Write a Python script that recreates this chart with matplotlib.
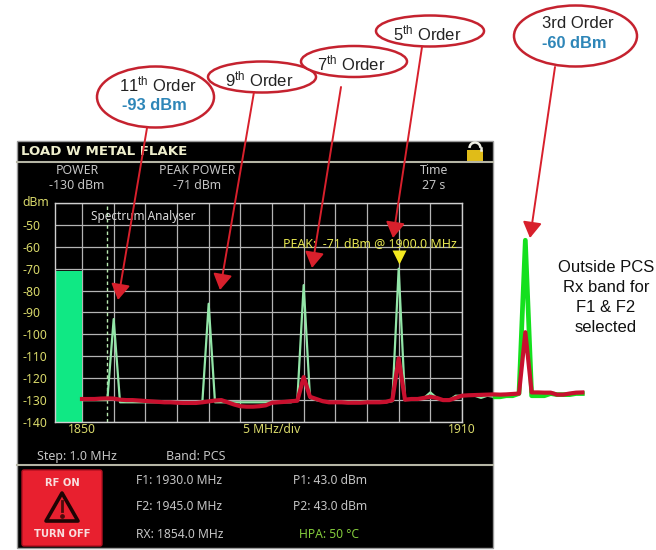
import matplotlib
matplotlib.use('Agg')

import matplotlib.pyplot as plt
from matplotlib.patches import Ellipse, Rectangle, Polygon, Arc, FancyBboxPatch

plt.rcParams['font.family'] = ['Noto Sans', 'DejaVu Sans']
plt.rcParams['mathtext.fontset'] = 'custom'
plt.rcParams['mathtext.rm'] = 'Liberation Sans'

# spectrum traces, one reading per MHz from 1850 to 1929
freqs = list(range(1850, 1930))
trace_green = [
    -130, -130, -130, -130, -130, -93, -131, -131, -131, -131,
    -131, -131, -131, -131, -131, -131, -131, -131, -131, -131,
    -86, -131, -131, -131, -131, -131, -131, -131, -131, -131,
    -131, -131, -131, -131, -130, -77.5, -129, -130, -130.5, -131,
    -131, -131, -130.5, -131, -130.5, -130.5, -131, -131, -131, -130.5,
    -70, -130, -129.5, -129.5, -129, -126.5, -129, -130, -130, -128,
    -128, -128, -128, -129, -128, -128.5, -128.5, -128, -128, -127,
    -57, -128, -128, -128, -127, -127.5, -127.5, -127.5, -127, -127,
]
trace_red = [
    -129.5, -129.5, -129.5, -129.3, -129.2, -129.3, -129.8, -130, -130, -130.2,
    -130.4, -130.6, -130.8, -131, -131, -131.2, -131.3, -131.3, -131.3, -131,
    -130.6, -130.2, -130, -131, -132, -132.8, -133, -133, -132.8, -132.4,
    -131.2, -131, -130.8, -130.5, -130.3, -119.5, -128.5, -129.5, -130.5, -131,
    -131, -131, -131.2, -131.2, -131.2, -131, -131, -131, -130.8, -130,
    -111, -129.8, -129.5, -129.5, -129, -128.5, -129, -130, -130, -129,
    -128, -127.8, -127.7, -127.6, -127.5, -127.4, -127.5, -127.4, -127.2, -127,
    -99, -126.5, -126.5, -126.6, -126.6, -127.5, -127.5, -127, -126.6, -126.5,
]

power_bar_value = -71
peak_freq = 1900
rx_freq = 1854
db_ticks = [-140, -130, -120, -110, -100, -90, -80, -70, -60, -50, -40]
db_labels = ['-140', '-130', '-120', '-110', '-100', '-90', '-80', '-70', '-60', '-50', '']
freq_ticks = list(range(1850, 1915, 5))
freq_labels = ['1850', '', '', '', '', '', '5 MHz/div', '', '', '', '', '', '1910']

callout_text = ['$\\mathrm{11^{th}}$ Order', '$\\mathrm{9^{th}}$ Order', '$\\mathrm{7^{th}}$ Order',
                '$\\mathrm{5^{th}}$ Order', '3rd Order']
callout_value = ['-93 dBm', None, None, None, '-60 dBm']
callout_box = [(155.5, 97, 117, 61), (262, 77, 108, 31), (354, 61.5, 106, 31), (430, 31, 108, 31), (575.5, 36, 123, 61)]
arrow_start = [(147, 128), (254, 92), (341, 87), (422, 47), (555, 67)]
arrow_tip = [(118, 300), (220, 290), (312, 268), (393, 238), (530, 238)]

YELLOW = '#d9d96a'
SCREEN = '#c4c4c4'
RED = '#c8102e'
EDGE = '#c5222f'
BAR_WIDTH = 27 / (380 / 60)

fig = plt.figure(figsize=(6.56, 5.5), dpi=100, facecolor='white')


def px_rect(x0, y0, x1, y1):
    return [x0 / 656, 1 - y1 / 550, (x1 - x0) / 656, (y1 - y0) / 550]


# pixel layer behind the chart: the instrument screen
bg = fig.add_axes([0, 0, 1, 1], zorder=0)
bg.set_xlim(0, 656)
bg.set_ylim(550, 0)
bg.axis('off')

bg.add_patch(Rectangle((17, 141), 476, 407, facecolor='black', edgecolor='#9a9a9a', lw=1))
bg.plot([17, 493], [162, 162], color='#b5b5a5', lw=1.5)
bg.plot([17, 493], [465, 465], color='#b5b5a5', lw=1.5)
bg.text(21, 151.5, 'LOAD W METAL FLAKE', color='#eeeecc', fontsize=9.6, fontweight='bold',
        family='DejaVu Sans', va='center')

# lock icon
bg.add_patch(Rectangle((467, 150), 16, 11, facecolor='#e0bc18', edgecolor='none'))
bg.add_patch(Arc((475, 148), 11, 11, theta1=180, theta2=360, color='#eeeee4', lw=1.8))
bg.plot([480.5, 480.5], [148, 150], color='#eeeee4', lw=1.8)

for x, top, bottom in [(77, 'POWER', '-130 dBm'), (197, 'PEAK POWER', '-71 dBm'), (434, 'Time', '27 s')]:
    bg.text(x, 170, top, color=SCREEN, fontsize=8.9, ha='center', va='center')
    bg.text(x, 185.5, bottom, color=SCREEN, fontsize=8.9, ha='center', va='center')
bg.text(22, 202, 'dBm', color=YELLOW, fontsize=8.8, va='center')

bg.text(37, 456.5, 'Step: 1.0 MHz', color=SCREEN, fontsize=9, va='center')
bg.text(166, 456.5, 'Band: PCS', color=SCREEN, fontsize=9, va='center')

# RF button
bg.add_patch(FancyBboxPatch((22, 470), 80, 76, boxstyle='round,pad=0,rounding_size=2',
                            facecolor='#e8202f', edgecolor='#b01020', lw=1))
bg.text(62, 483, 'RF ON', color='#f8dede', fontsize=7.2, fontweight='bold', family='DejaVu Sans',
        ha='center', va='center')
bg.text(62, 534, 'TURN OFF', color='#f8dede', fontsize=7.2, fontweight='bold', family='DejaVu Sans',
        ha='center', va='center')
bg.add_patch(Polygon([(62, 493), (78, 521), (46, 521)], closed=True, facecolor='#e8202f',
                     edgecolor='#1e0404', lw=2.6, joinstyle='round'))
bg.plot([62, 62], [501, 511], color='#4a0c0c', lw=2)
bg.plot([62], [515.5], marker='o', ms=2.4, color='#4a0c0c')

for y, f_text, p_text, p_color, p_x in [(480, 'F1: 1930.0 MHz', 'P1: 43.0 dBm', SCREEN, 293),
                                        (507, 'F2: 1945.0 MHz', 'P2: 43.0 dBm', SCREEN, 293),
                                        (535, 'RX: 1854.0 MHz', 'HPA: 50 °C', '#84cc3c', 299)]:
    bg.text(136, y, f_text, color=SCREEN, fontsize=8.7, va='center')
    bg.text(p_x, y, p_text, color=p_color, fontsize=8.7, va='center')

# spectrum plot, 1850 sits at px 82 and 1910 at px 462
ax = fig.add_axes(px_rect(55, 203, 462, 422), zorder=1, facecolor='none')
ax.set_xlim(1850 - BAR_WIDTH, 1910)
ax.set_ylim(-140, -40)
ax.set_xticks(freq_ticks)
ax.set_xticklabels(freq_labels)
ax.set_yticks(db_ticks)
ax.set_yticklabels(db_labels)
ax.tick_params(axis='both', length=0, colors=YELLOW, labelsize=8.8)
ax.tick_params(axis='x', pad=1)
ax.tick_params(axis='y', pad=23.5)
for label in ax.get_yticklabels():
    label.set_ha('left')
ax.grid(True, color='#b4b4b4', lw=0.9)
ax.set_axisbelow(True)
for spine in ax.spines.values():
    spine.set_color('#cfcfcf')
    spine.set_linewidth(1)

ax.bar([1850 - BAR_WIDTH], [power_bar_value + 140], bottom=-140, width=BAR_WIDTH, align='edge',
       color='#10e884', zorder=2)
ax.axvline(rx_freq, color='#b8e8b0', lw=1, ls=(0, (2.5, 2)), zorder=2)

ax.text(1851.4, -46, 'Spectrum Analyser', color='#dcdcdc', fontsize=8.5, va='center', zorder=4)
ax.text(1909.2, -58.5, 'PEAK:  -71 dBm @ 1900.0 MHz', color='#e6e650', fontsize=8.9, ha='right',
        va='center', zorder=4)
ax.plot([peak_freq], [-64.5], marker='v', ms=9.5, color='#f4ea20', mec='none', zorder=5)

# green trace changes look where it leaves the screen
inside = Rectangle((17, 141), 476, 407, transform=bg.transData)
outside = Rectangle((493, 0), 163, 550, transform=bg.transData)
line_in, = ax.plot(freqs, trace_green, color='#93e6a8', lw=1.6, zorder=3)
line_in.set_clip_path(inside)
line_out, = ax.plot(freqs, trace_green, color='#14e01e', lw=3.4, zorder=3)
line_out.set_clip_path(outside)
ax.plot(freqs, trace_red, color=RED, lw=3, zorder=4, clip_on=False, solid_joinstyle='round')

# pixel layer above the chart: callouts and arrows
fg = fig.add_axes([0, 0, 1, 1], zorder=2, facecolor='none')
fg.set_xlim(0, 656)
fg.set_ylim(550, 0)
fg.axis('off')

for text, value, box, start, tip in zip(callout_text, callout_value, callout_box, arrow_start, arrow_tip):
    cx, cy, w, h = box
    fg.annotate('', xy=tip, xytext=start,
                arrowprops=dict(arrowstyle='-|>,head_length=0.6,head_width=0.36', color='#d8202c', lw=1.4,
                                mutation_scale=16, shrinkA=0, shrinkB=0))
    fg.add_patch(Ellipse((cx, cy), w, h, facecolor='white', edgecolor=EDGE, lw=1.8))
    if value is None:
        fg.text(cx - 3, cy + 2, text, color='#222222', fontsize=12, family='Liberation Sans', ha='center', va='center')
    else:
        fg.text(cx + 2, cy - 13, text, color='#222222', fontsize=12, family='Liberation Sans', ha='center', va='center')
        fg.text(cx - 1.5, cy + 8, value, color='#2e86b8', fontsize=11.8, fontweight='bold',
                family='Liberation Sans', ha='center', va='center')

for y, line in zip([267, 287, 308, 328], ['Outside PCS', 'Rx band for', 'F1 & F2', 'selected']):
    fg.text(606, y, line, color='#111111', fontsize=12, family='Liberation Sans', ha='center', va='center')

fig.savefig('out.png', dpi=100)
